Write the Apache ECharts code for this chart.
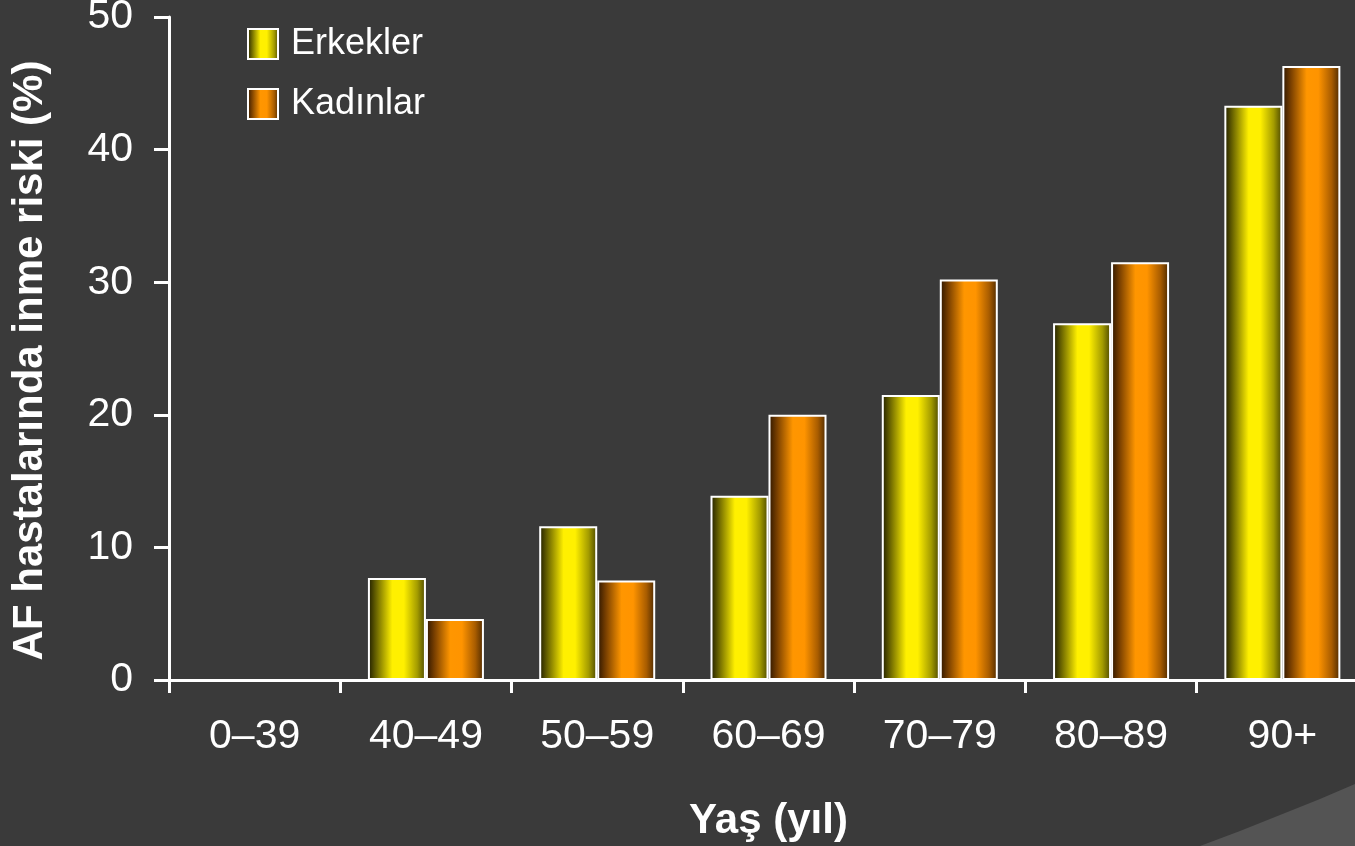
<!DOCTYPE html>
<html>
<head>
<meta charset="utf-8">
<script src="https://cdn.jsdelivr.net/npm/echarts@6/dist/echarts.min.js"></script>
<style>
html,body{margin:0;padding:0;background:#3a3a3a;}
#chart{width:1355px;height:846px;}
</style>
</head>
<body>
<div id="chart"></div>
<script>
const categories = ['0–39', '40–49', '50–59', '60–69', '70–79', '80–89', '90+'];
const men = [0, 7.7, 11.6, 13.9, 21.5, 26.9, 43.3];
const women = [0, 4.6, 7.5, 20.0, 30.2, 31.5, 46.3];
const seriesNames = ['Erkekler', 'Kadınlar'];
const yTicks = [0, 10, 20, 30, 40, 50];

const chart = echarts.init(document.getElementById('chart'));
const font = '"Liberation Sans", Arial, sans-serif';

function grad(stops) {
  return new echarts.graphic.LinearGradient(0, 0, 1, 0, stops);
}
const yellow = grad([
  {offset: 0, color: '#1c1a00'},
  {offset: 0.15, color: '#6e6800'},
  {offset: 0.42, color: '#fff000'},
  {offset: 0.62, color: '#fff000'},
  {offset: 0.85, color: '#a49c00'},
  {offset: 1, color: '#4a4600'}
]);
const orange = grad([
  {offset: 0, color: '#2a1400'},
  {offset: 0.15, color: '#7a4000'},
  {offset: 0.42, color: '#ff9600'},
  {offset: 0.62, color: '#ff9400'},
  {offset: 0.85, color: '#a85c00'},
  {offset: 1, color: '#4a2800'}
]);

chart.setOption({
  backgroundColor: '#3a3a3a',
  animation: false,
  textStyle: {fontFamily: font},
  grid: {left: 169, top: 17, width: 1199, height: 663, containLabel: false, outerBoundsMode: 'none'},
  legend: {
    orient: 'vertical',
    left: 242,
    top: 21,
    icon: 'rect',
    itemWidth: 30,
    itemHeight: 30,
    itemGap: 24,
    data: seriesNames,
    textStyle: {color: '#ffffff', fontSize: 36, fontFamily: font, padding: [0, 0, 0, 8]}
  },
  xAxis: {
    type: 'category',
    data: categories,
    name: 'Yaş (yıl)',
    nameLocation: 'middle',
    nameGap: 120,
    nameTextStyle: {color: '#ffffff', fontSize: 42, fontWeight: 'bold', fontFamily: font},
    axisLine: {lineStyle: {color: '#ffffff', width: 3}},
    axisTick: {show: true, alignWithLabel: false, length: 13, lineStyle: {color: '#ffffff', width: 3}},
    axisLabel: {color: '#ffffff', fontSize: 41, margin: 36, fontFamily: font, interval: 0}
  },
  yAxis: {
    type: 'value',
    min: yTicks[0],
    max: yTicks[yTicks.length - 1],
    interval: 10,
    name: 'AF hastalarında inme riski (%)',
    nameLocation: 'middle',
    nameGap: 118,
    nameTextStyle: {color: '#ffffff', fontSize: 42, fontWeight: 'bold', fontFamily: font, padding: [0, 24, 0, 0]},
    axisLine: {show: true, lineStyle: {color: '#ffffff', width: 3}},
    axisTick: {show: true, length: 15, lineStyle: {color: '#ffffff', width: 3}},
    axisLabel: {color: '#ffffff', fontSize: 41, margin: 36, fontFamily: font},
    splitLine: {show: false}
  },
  series: [
    {
      name: seriesNames[0],
      type: 'bar',
      data: men,
      barWidth: 58,
      barGap: '0%',
      itemStyle: {color: yellow, borderColor: '#ffffff', borderWidth: 2}
    },
    {
      name: seriesNames[1],
      type: 'bar',
      data: women,
      barWidth: 58,
      barGap: '0%',
      itemStyle: {color: orange, borderColor: '#ffffff', borderWidth: 2}
    }
  ],
  graphic: [
    {
      type: 'polygon',
      z: -1,
      silent: true,
      shape: {points: [[1200, 846], [1240, 831], [1280, 815], [1320, 799], [1355, 784], [1355, 846]]},
      style: {fill: '#545454'}
    }
  ]
});
</script>
</body>
</html>
